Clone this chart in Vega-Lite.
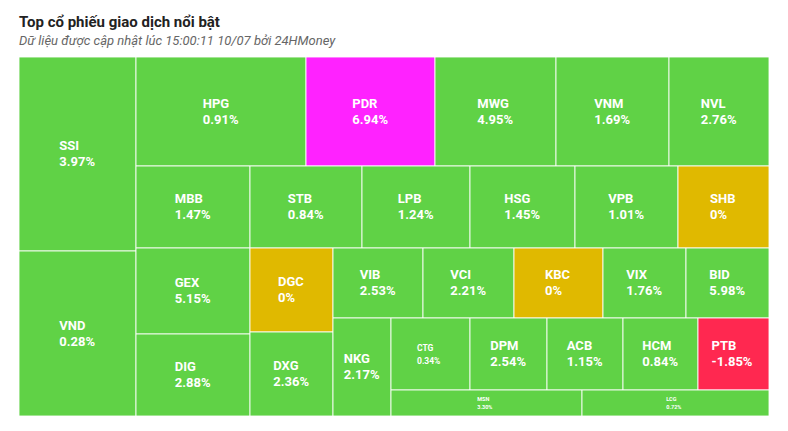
{
  "$schema": "https://vega.github.io/schema/vega-lite/v6.json",
  "width": 750,
  "height": 359,
  "autosize": {"type": "none"},
  "padding": {"left": 19, "top": 57, "right": 19, "bottom": 15},
  "background": "white",
  "title": {
    "text": "Top cổ phiếu giao dịch nổi bật",
    "subtitle": "Dữ liệu được cập nhật lúc 15:00:11 10/07 bởi 24HMoney",
    "anchor": "start",
    "frame": "group",
    "font": "Roboto",
    "fontSize": 15,
    "fontWeight": "bold",
    "color": "#222222",
    "subtitleFont": "Roboto",
    "subtitleFontSize": 13,
    "subtitleFontStyle": "italic",
    "subtitleColor": "#666666",
    "subtitlePadding": 5,
    "offset": 9
  },
  "config": {"view": {"stroke": null}},
  "data": {
    "values": [
      {"ticker": "SSI", "change": 3.97, "x0": 0, "x1": 117, "y0": 0, "y1": 194},
      {"ticker": "VND", "change": 0.28, "x0": 0, "x1": 117, "y0": 194, "y1": 359},
      {"ticker": "HPG", "change": 0.91, "x0": 117, "x1": 287, "y0": 0, "y1": 109},
      {"ticker": "PDR", "change": 6.94, "x0": 287, "x1": 416, "y0": 0, "y1": 109},
      {"ticker": "MWG", "change": 4.95, "x0": 416, "x1": 537, "y0": 0, "y1": 109},
      {"ticker": "VNM", "change": 1.69, "x0": 537, "x1": 650, "y0": 0, "y1": 109},
      {"ticker": "NVL", "change": 2.76, "x0": 650, "x1": 750, "y0": 0, "y1": 109},
      {"ticker": "MBB", "change": 1.47, "x0": 117, "x1": 231, "y0": 109, "y1": 191},
      {"ticker": "STB", "change": 0.84, "x0": 231, "x1": 343, "y0": 109, "y1": 191},
      {"ticker": "LPB", "change": 1.24, "x0": 343, "x1": 451, "y0": 109, "y1": 191},
      {"ticker": "HSG", "change": 1.45, "x0": 451, "x1": 556, "y0": 109, "y1": 191},
      {"ticker": "VPB", "change": 1.01, "x0": 556, "x1": 659, "y0": 109, "y1": 191},
      {"ticker": "SHB", "change": 0, "x0": 659, "x1": 750, "y0": 109, "y1": 191},
      {"ticker": "GEX", "change": 5.15, "x0": 117, "x1": 231, "y0": 191, "y1": 277},
      {"ticker": "DIG", "change": 2.88, "x0": 117, "x1": 231, "y0": 277, "y1": 359},
      {"ticker": "DGC", "change": 0, "x0": 231, "x1": 314, "y0": 191, "y1": 275},
      {"ticker": "DXG", "change": 2.36, "x0": 231, "x1": 314, "y0": 275, "y1": 359},
      {"ticker": "VIB", "change": 2.53, "x0": 314, "x1": 404, "y0": 191, "y1": 261},
      {"ticker": "VCI", "change": 2.21, "x0": 404, "x1": 495, "y0": 191, "y1": 261},
      {"ticker": "KBC", "change": 0, "x0": 495, "x1": 584, "y0": 191, "y1": 261},
      {"ticker": "VIX", "change": 1.76, "x0": 584, "x1": 667, "y0": 191, "y1": 261},
      {"ticker": "BID", "change": 5.98, "x0": 667, "x1": 750, "y0": 191, "y1": 261},
      {"ticker": "NKG", "change": 2.17, "x0": 314, "x1": 372, "y0": 261, "y1": 359},
      {"ticker": "CTG", "change": 0.34, "x0": 372, "x1": 451, "y0": 261, "y1": 333},
      {"ticker": "DPM", "change": 2.54, "x0": 451, "x1": 528, "y0": 261, "y1": 333},
      {"ticker": "ACB", "change": 1.15, "x0": 528, "x1": 604, "y0": 261, "y1": 333},
      {"ticker": "HCM", "change": 0.84, "x0": 604, "x1": 679, "y0": 261, "y1": 333},
      {"ticker": "PTB", "change": -1.85, "x0": 679, "x1": 750, "y0": 261, "y1": 333},
      {"ticker": "MSN", "change": 3.3, "x0": 372, "x1": 563, "y0": 333, "y1": 359},
      {"ticker": "LCG", "change": 0.72, "x0": 563, "x1": 750, "y0": 333, "y1": 359}
    ]
  },
  "transform": [
    {"calculate": "datum.change === 0 ? '0%' : (datum.change < 0 ? '-' : '') + format(abs(datum.change), '.2f') + '%'", "as": "pct"},
    {"calculate": "[datum.ticker, datum.pct]", "as": "lbl"},
    {"calculate": "(datum.x0 + datum.x1) / 2", "as": "xm"},
    {"calculate": "(datum.y0 + datum.y1) / 2", "as": "ym"},
    {"calculate": "datum.change >= 6.9 ? 'ceil' : datum.change > 0 ? 'up' : datum.change < 0 ? 'down' : 'flat'", "as": "state"}
  ],
  "layer": [
    {
      "mark": {"type": "rect", "stroke": "#ffffff", "strokeWidth": 1, "strokeOpacity": 0.85},
      "encoding": {
        "x": {"field": "x0", "type": "quantitative", "scale": {"domain": [0, 750], "nice": false, "zero": false}, "axis": null},
        "x2": {"field": "x1"},
        "y": {"field": "y0", "type": "quantitative", "scale": {"domain": [0, 359], "nice": false, "zero": false, "reverse": true}, "axis": null},
        "y2": {"field": "y1"},
        "color": {
          "field": "state",
          "type": "nominal",
          "scale": {"domain": ["up", "ceil", "flat", "down"], "range": ["#60d246", "#ff22ff", "#e0b900", "#ff2850"]},
          "legend": null
        }
      }
    },
    {
      "transform": [
        {"filter": "indexof(['CTG', 'MSN', 'LCG'], datum.ticker) < 0"},
        {"calculate": "datum.xm - max(length(datum.ticker) * 9, length(datum.pct) * 7.3) / 2", "as": "lx"}
      ],
      "mark": {"type": "text", "align": "left", "baseline": "middle", "dy": -8, "font": "Roboto", "fontWeight": "bold", "fontSize": 13, "lineHeight": 16, "color": "#ffffff"},
      "encoding": {
        "x": {"field": "lx", "type": "quantitative"},
        "y": {"field": "ym", "type": "quantitative"},
        "text": {"field": "lbl", "type": "nominal"}
      }
    },
    {
      "transform": [
        {"filter": "datum.ticker === 'CTG'"},
        {"calculate": "datum.xm - max(length(datum.ticker) * 6, length(datum.pct) * 5.4) / 2", "as": "lx"}
      ],
      "mark": {"type": "text", "align": "left", "baseline": "middle", "dy": -6, "font": "Roboto", "fontWeight": "bold", "fontSize": 8.5, "lineHeight": 12.5, "color": "#ffffff"},
      "encoding": {
        "x": {"field": "lx", "type": "quantitative"},
        "y": {"field": "ym", "type": "quantitative"},
        "text": {"field": "lbl", "type": "nominal"}
      }
    },
    {
      "transform": [
        {"filter": "indexof(['MSN', 'LCG'], datum.ticker) >= 0"},
        {"calculate": "datum.xm - max(length(datum.ticker) * 4, length(datum.pct) * 3.7) / 2", "as": "lx"}
      ],
      "mark": {"type": "text", "align": "left", "baseline": "middle", "dy": -4, "font": "Roboto", "fontWeight": "bold", "fontSize": 5.5, "lineHeight": 8, "color": "#ffffff"},
      "encoding": {
        "x": {"field": "lx", "type": "quantitative"},
        "y": {"field": "ym", "type": "quantitative"},
        "text": {"field": "lbl", "type": "nominal"}
      }
    }
  ]
}
